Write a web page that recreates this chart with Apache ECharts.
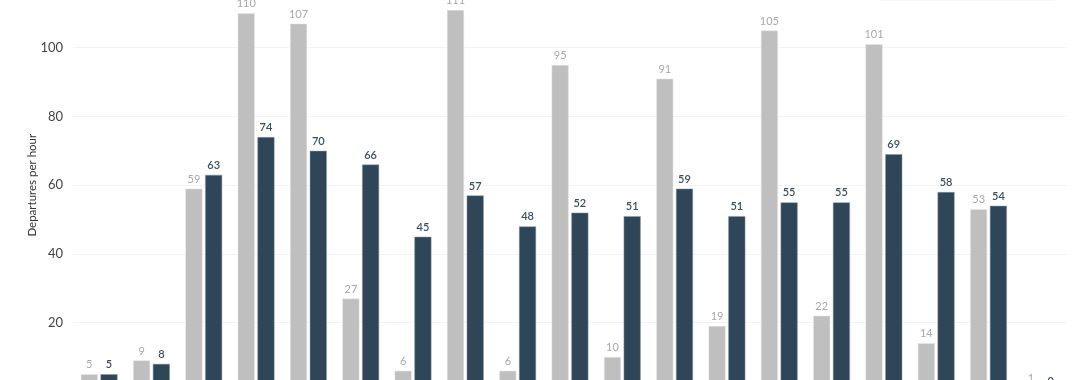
<!DOCTYPE html>
<html>
<head>
<meta charset="utf-8">
<script src="https://cdn.jsdelivr.net/npm/echarts@6/dist/echarts.min.js"></script>
<style>
html,body{margin:0;padding:0;width:1080px;height:380px;overflow:hidden;background:#fff;}
#c{position:absolute;left:0;top:-60px;width:1080px;height:500px;}
</style>
</head>
<body>
<div id="c"></div>
<script>
var categories = ['5:00','6:00','7:00','8:00','9:00','10:00','11:00','12:00','13:00','14:00','15:00','16:00','17:00','18:00','19:00','20:00','21:00','22:00','23:00'];
var seriesNames = ['Before', 'After'];
var grayValues = [5, 9, 59, 110, 107, 27, 6, 111, 6, 95, 10, 91, 19, 105, 22, 101, 14, 53, 1];
var darkValues = [5, 8, 63, 74, 70, 66, 45, 57, 48, 52, 51, 59, 51, 55, 55, 69, 58, 54, 0];
var yTicks = [0, 20, 40, 60, 80, 100, 120];

var chart = echarts.init(document.getElementById('c'), null, {renderer:'canvas'});
chart.setOption({
  animation:false,
  textStyle:{fontFamily:'Lato'},
  legend:{
    data:seriesNames,
    left:879, top:32, width:200,
    itemWidth:12, itemHeight:12, itemGap:58,
    padding:[7,10],
    borderColor:'#ececec', borderWidth:1,
    textStyle:{fontFamily:'Lato', fontSize:12, color:'#444'}
  },
  grid:{left:73, right:13, top:39, bottom:48.6, containLabel:false},
  xAxis:{
    type:'category', data:categories,
    axisLine:{show:false}, axisTick:{show:false},
    axisLabel:{fontFamily:'Lato', fontSize:12, color:'#444'}
  },
  yAxis:{
    type:'value', min:yTicks[0], max:yTicks[yTicks.length-1], interval:20,
    name:'Departures per hour', nameLocation:'middle', nameGap:35, nameMoveOverlap:false,
    nameTextStyle:{fontFamily:'Lato', fontSize:11.5, color:'#333'},
    axisLine:{show:false}, axisTick:{show:false},
    axisLabel:{fontFamily:'Lato', fontSize:13, color:'#444', margin:10},
    splitLine:{lineStyle:{color:'#f3f3f3', width:1}}
  },
  series:[
    {
      name:seriesNames[0], type:'bar', data:grayValues,
      barWidth:17, barGap:'16%',
      itemStyle:{color:'#bfbfbf', borderColor:'#e6e6e6', borderWidth:0.5},
      label:{show:true, position:'top', distance:4, fontFamily:'Lato', fontSize:11, color:'#a8a8a8'}
    },
    {
      name:seriesNames[1], type:'bar', data:darkValues,
      barWidth:17,
      itemStyle:{color:'#2e4657', borderColor:'#8a9aa6', borderWidth:0.5},
      label:{show:true, position:'top', distance:4, fontFamily:'Lato', fontSize:11, fontWeight:600, color:'#3a4f60'}
    }
  ]
});
</script>
</body>
</html>
